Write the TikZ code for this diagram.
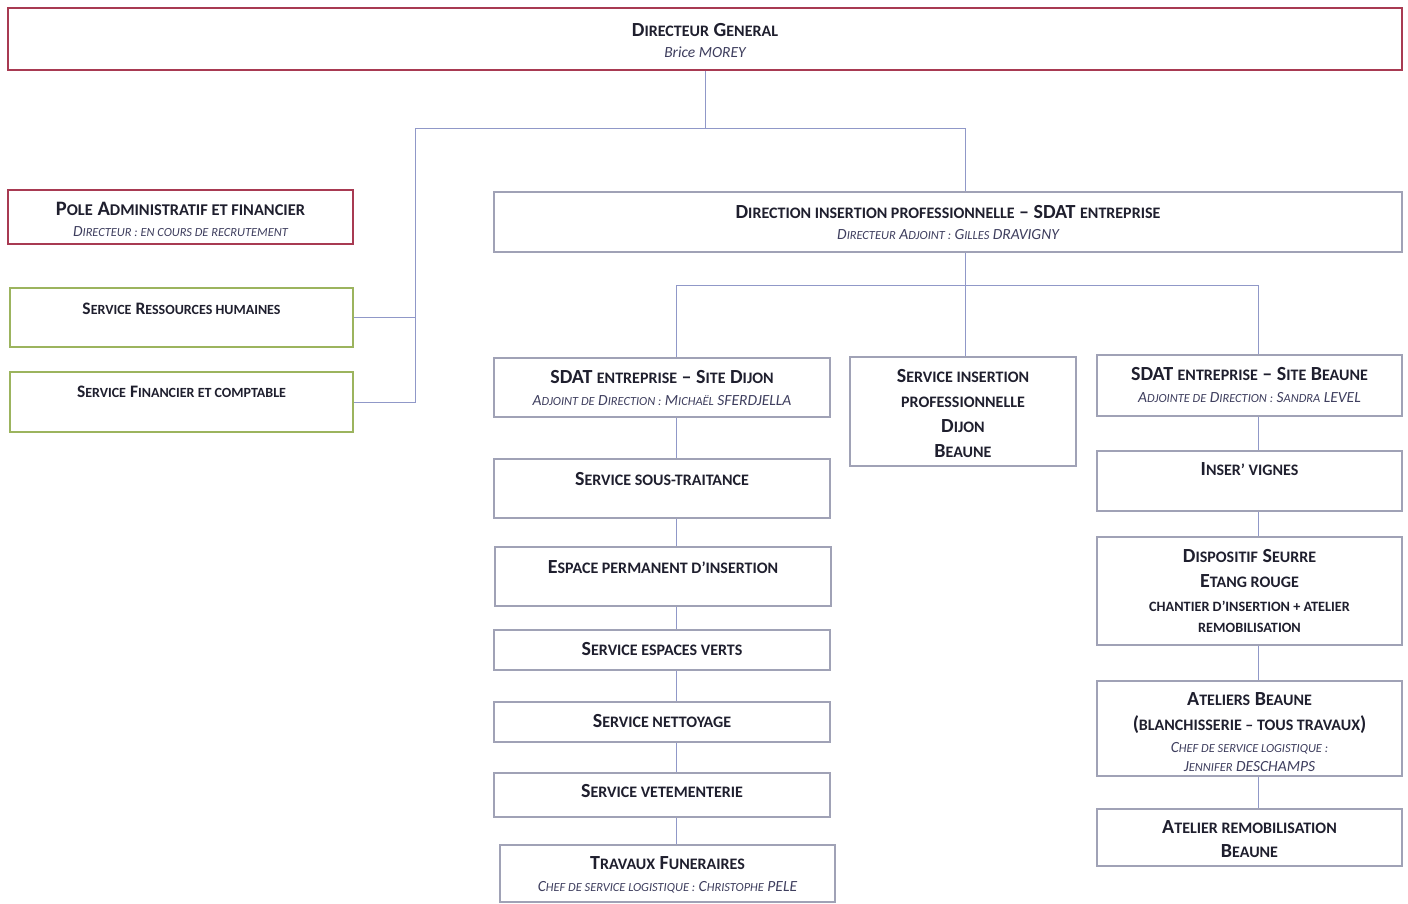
\documentclass[tikz,border=0pt]{standalone}
\usepackage{fontspec}
\setmainfont{Carlito}
\usepackage{graphicx}
\usetikzlibrary{positioning}
\definecolor{Ink}{HTML}{1F1F2E}
\definecolor{SubInk}{HTML}{3E3E5E}
\definecolor{RedLine}{HTML}{A83A52}
\definecolor{GreenLine}{HTML}{9CB45E}
\definecolor{GreyLine}{HTML}{A0A2B6}
\definecolor{LinkBlue}{HTML}{9098C8}
\newcommand{\smc}[1]{\scalebox{0.8}{#1}}
\newcommand{\subtxt}{\fontsize{15.5}{18}\selectfont\mdseries\itshape\color{SubInk}}
\newcommand{\minitxt}{\fontsize{17.8}{25}\selectfont}

\begin{document}
\begin{tikzpicture}[x=1pt,y=-1pt,box/.style={draw=GreyLine,line width=2.2pt,inner sep=0pt},redbox/.style={box,draw=RedLine},greenbox/.style={box,draw=GreenLine},ttl/.style={font=\fontsize{20}{25}\selectfont\bfseries,text=Ink,align=center,inner sep=0pt},link/.style={draw=LinkBlue,line width=0.9pt}]
\useasboundingbox[fill=white] (0,0) rectangle (1408,903);

% boxes
\node[redbox,minimum width=1394,minimum height=62] (dg) at (705,39) {};
\node[redbox,minimum width=345,minimum height=54] (paf) at (180.5,217) {};
\node[greenbox,minimum width=343,minimum height=59] (srh) at (181.5,317.5) {};
\node[greenbox,minimum width=343,minimum height=60] (sfc) at (181.5,402) {};
\node[box,minimum width=908,minimum height=60] (dip) at (948,222) {};
\node[box,minimum width=336,minimum height=59] (dijon) at (662,387.5) {};
\node[box,minimum width=226,minimum height=109] (sip) at (963,411.5) {};
\node[box,minimum width=305,minimum height=61] (beaune) at (1249.5,385.5) {};
\node[box,minimum width=336,minimum height=59] (stt) at (662,488.5) {};
\node[box,minimum width=336,minimum height=59] (epi) at (663,576.5) {};
\node[box,minimum width=336,minimum height=40] (sev) at (662,650) {};
\node[box,minimum width=336,minimum height=40] (snt) at (662,722) {};
\node[box,minimum width=336,minimum height=44] (svt) at (662,795) {};
\node[box,minimum width=335,minimum height=57] (tfu) at (667.5,873.5) {};
\node[box,minimum width=305,minimum height=60] (ivi) at (1249.5,481) {};
\node[box,minimum width=305,minimum height=108] (dse) at (1249.5,591) {};
\node[box,minimum width=305,minimum height=95] (abe) at (1249.5,728.5) {};
\node[box,minimum width=305,minimum height=57] (arb) at (1249.5,837.5) {};

% texts
\node[ttl,below=16pt of dg.north] (dg-t) {D\smc{IRECTEUR} G\smc{ENERAL}\\[-4pt]{\subtxt Brice MOREY}};
\node[ttl,font=\fontsize{20.5}{25}\selectfont\bfseries,below=13pt of paf.north] (paf-t) {P\smc{OLE} A\smc{DMINISTRATIF ET FINANCIER}\\[-4pt]{\subtxt D\smc{IRECTEUR : EN COURS DE RECRUTEMENT}}};
\node[ttl,font=\fontsize{17.5}{25}\selectfont\bfseries,below=16pt of srh.north] (srh-t) {S\smc{ERVICE} R\smc{ESSOURCES HUMAINES}};
\node[ttl,font=\fontsize{17.5}{25}\selectfont\bfseries,below=15pt of sfc.north] (sfc-t) {S\smc{ERVICE} F\smc{INANCIER ET COMPTABLE}};
\node[ttl,below=14pt of dip.north] (dip-t) {D\smc{IRECTION INSERTION PROFESSIONNELLE} -- SDAT \smc{ENTREPRISE}\\[-4pt]{\subtxt D\smc{IRECTEUR} A\smc{DJOINT :} G\smc{ILLES} DRAVIGNY}};
\node[ttl,below=13pt of dijon.north] (dijon-t) {SDAT \smc{ENTREPRISE} -- S\smc{ITE} D\smc{IJON}\\[-3pt]{\subtxt A\smc{DJOINT DE} D\smc{IRECTION :} M\smc{ICHAËL} SFERDJELLA}};
\node[ttl,below=13pt of sip.north] (sip-t) {S\smc{ERVICE INSERTION}\\\smc{PROFESSIONNELLE}\\D\smc{IJON}\\B\smc{EAUNE}};
\node[ttl,below=13pt of beaune.north] (beaune-t) {SDAT \smc{ENTREPRISE} -- S\smc{ITE} B\smc{EAUNE}\\[-3pt]{\subtxt A\smc{DJOINTE DE} D\smc{IRECTION :} S\smc{ANDRA} LEVEL}};
\node[ttl,below=14pt of stt.north] (stt-t) {S\smc{ERVICE SOUS-TRAITANCE}};
\node[ttl,below=14pt of epi.north] (epi-t) {E\smc{SPACE PERMANENT D’INSERTION}};
\node[ttl,below=13pt of sev.north] (sev-t) {S\smc{ERVICE ESPACES VERTS}};
\node[ttl,below=13pt of snt.north] (snt-t) {S\smc{ERVICE NETTOYAGE}};
\node[ttl,below=12pt of svt.north] (svt-t) {S\smc{ERVICE VETEMENTERIE}};
\node[ttl,below=12pt of tfu.north] (tfu-t) {T\smc{RAVAUX} F\smc{UNERAIRES}\\[-3pt]{\subtxt C\smc{HEF DE SERVICE LOGISTIQUE :} C\smc{HRISTOPHE} PELE}};
\node[ttl,below=12pt of ivi.north] (ivi-t) {I\smc{NSER’ VIGNES}};
\node[ttl,below=13pt of dse.north] (dse-t) {D\smc{ISPOSITIF} S\smc{EURRE}\\E\smc{TANG ROUGE}\\[-1pt]{\minitxt\smc{CHANTIER D’INSERTION + ATELIER}}\\[-4pt]{\minitxt\smc{REMOBILISATION}}};
\node[ttl,below=12pt of abe.north] (abe-t) {A\smc{TELIERS} B\smc{EAUNE}\\(\smc{BLANCHISSERIE -- TOUS TRAVAUX})\\[-3pt]{\subtxt C\smc{HEF DE SERVICE LOGISTIQUE :}}\\[-6pt]{\subtxt J\smc{ENNIFER} DESCHAMPS}};
\node[ttl,below=12pt of arb.north] (arb-t) {A\smc{TELIER REMOBILISATION}\\[-1pt]B\smc{EAUNE}};

% links
\coordinate (jt) at (705,128); \coordinate (jl) at (415,128); \coordinate (jr) at (965,128);
\coordinate (jm) at (676,285); \coordinate (jb) at (1258,285);
\draw[link] (dg.south) -- (jt);
\draw[link] (jl) -- (jr) -- (jr |- dip.north);
\draw[link] (jl) |- (sfc.east); \draw[link] (jl |- srh.east) -- (srh.east);
\draw[link] (jr |- dip.south) -- (jr |- sip.north);
\draw[link] (jm) -- (jb);
\draw[link] (jm) -- (jm |- dijon.north); \draw[link] (jb) -- (jb |- beaune.north);
\foreach \a/\b in {dijon/stt,stt/epi,epi/sev,sev/snt,snt/svt,svt/tfu} \draw[link] (jm |- \a.south) -- (jm |- \b.north);
\foreach \a/\b in {beaune/ivi,ivi/dse,dse/abe,abe/arb} \draw[link] (jb |- \a.south) -- (jb |- \b.north);

\end{tikzpicture}
\end{document}
